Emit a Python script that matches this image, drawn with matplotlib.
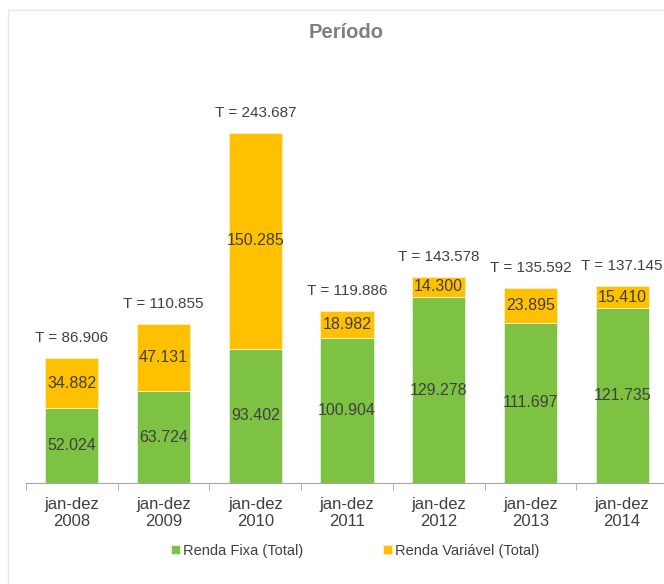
import matplotlib.pyplot as plt
from matplotlib.patches import Rectangle

periods = ["jan-dez\n2008", "jan-dez\n2009", "jan-dez\n2010", "jan-dez\n2011",
           "jan-dez\n2012", "jan-dez\n2013", "jan-dez\n2014"]
renda_fixa = [52.024, 63.724, 93.402, 100.904, 129.278, 111.697, 121.735]
renda_variavel = [34.882, 47.131, 150.285, 18.982, 14.300, 23.895, 15.410]
totals = [86.906, 110.855, 243.687, 119.886, 143.578, 135.592, 137.145]

green = "#7DC243"
yellow = "#FFC000"
text_color = "#404040"

plt.rcParams['font.family'] = ['Liberation Sans', 'DejaVu Sans']

fig = plt.figure(figsize=(6.64, 5.84), dpi=100)
fig.patches.append(Rectangle((8 / 664, -0.1), 1.2, (584 - 10) / 584 + 0.1,
                             transform=fig.transFigure, fill=False,
                             edgecolor="#E6E6E6", linewidth=1))

ax = fig.add_axes([26 / 664, (584 - 483) / 584, 642 / 664, 431 / 584])

x = list(range(len(periods)))
b1 = ax.bar(x, renda_fixa, width=0.58, color=green, edgecolor="#E8F3DD",
            linewidth=0.6, label="Renda Fixa (Total)")
b2 = ax.bar(x, renda_variavel, width=0.58, bottom=renda_fixa, color=yellow,
            edgecolor="#FFF0C0", linewidth=0.6, label="Renda Variável (Total)")

def fmt(v):
    return f"{v:.3f}"

for i in x:
    ax.text(i, renda_fixa[i] / 2, fmt(renda_fixa[i]), ha='center', va='center',
            fontsize=11.5, color=text_color)
    ax.text(i, renda_fixa[i] + renda_variavel[i] / 2, fmt(renda_variavel[i]),
            ha='center', va='center', fontsize=11.5, color=text_color)
    ax.text(i, totals[i] + 9, "T = " + fmt(totals[i]), ha='center', va='bottom',
            fontsize=11, color=text_color)

ax.set_xlim(-0.5, len(periods) - 0.5)
ax.set_ylim(0, 300)
ax.set_yticks([])
for side in ['top', 'right', 'left']:
    ax.spines[side].set_visible(False)
ax.spines['bottom'].set_color("#A6A6A6")

ax.set_xticks(x)
ax.set_xticklabels(periods, fontsize=12, color=text_color, linespacing=1.2)
ax.tick_params(axis='x', length=0, pad=10)
ax.set_xticks([i - 0.5 for i in range(len(periods) + 1)], minor=True)
ax.tick_params(axis='x', which='minor', length=5, color="#A6A6A6")

fig.text(346 / 664, 1 - 33 / 584, "Período", ha='center', va='center',
         fontsize=14.5, fontweight='bold', color="#7F7F7F")

fig.legend(handles=[b1, b2], loc='center', bbox_to_anchor=(355 / 664, 1 - 551 / 584),
           ncol=2, frameon=False, fontsize=10.5, handlelength=0.6, handleheight=0.6,
           handletextpad=0.2, columnspacing=5.5, labelcolor=text_color)

fig.savefig("out.png", dpi=100)
